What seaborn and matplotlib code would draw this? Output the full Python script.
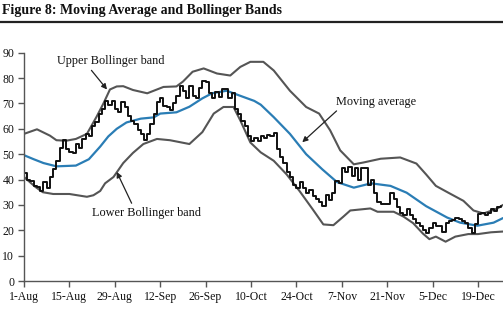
import numpy as np
import pandas as pd
import matplotlib
matplotlib.use("Agg")
import matplotlib.pyplot as plt
from matplotlib.lines import Line2D
import seaborn as sns

# ---- data (days since 1-Aug) ----
price = [42.5, 40, 39.5, 37.5, 37, 35.5, 39, 36.5, 41, 44,
         47.5, 52.5, 55.5, 52, 51, 50.5, 54, 52.5, 56, 58,
         57, 61, 62.5, 66, 68, 71, 69.5, 71, 68, 66.5,
         70.5, 68.5, 65, 63, 62, 59.5, 58, 55.5, 58, 62,
         66, 70.5, 72, 69, 68.5, 67.5, 70, 73, 77, 75,
         72, 77, 73, 72, 76, 79, 78.5, 74, 72, 74.5,
         72.5, 75.5, 75.5, 72, 74, 68, 66, 63, 61, 57,
         55, 56.5, 55, 57, 56.5, 57.5, 57, 58.5, 52, 49,
         46.5, 43, 41, 38, 36.5, 39, 36.5, 34.5, 36, 33.5,
         32.5, 31, 29.5, 34, 32, 34.5, 39.5, 38.5, 44.5, 43,
         45, 41.5, 44.5, 40, 44.5, 44.5, 38, 40, 34.5, 31,
         30.5, 30.5, 30.5, 34.5, 32.5, 29, 27, 26, 28.5, 26,
         24.5, 23, 21.5, 20, 19, 21, 23, 21.5, 21.5, 19.5,
         23, 23.5, 24, 25, 24.5, 23.5, 23, 21, 19, 22.5,
         26.5, 27, 26, 27, 28.5, 27.5, 29, 29.5]
price_days = list(range(len(price)))

ma_days = [0, 3, 6, 10, 16, 20, 23.5, 26, 28.6, 31.6, 36, 40, 42, 47, 51, 55, 58,
           62.5, 66.7, 71, 73, 77, 82, 87, 92, 96.5, 101.7, 107, 113, 118, 124,
           130.5, 134.5, 139.8, 144.8, 147.7]
ma_vals = [49.6, 48, 46.5, 45.2, 45.5, 48, 53, 57, 60, 62.5, 64, 64.5, 66, 66.5, 68.7,
           72, 74, 75, 73, 71, 69.5, 64.6, 58, 50, 44, 39, 36.8, 38.5, 37.5, 34.8,
           29.5, 25, 23, 21.8, 23, 24.8]

up_days = [0, 4, 8, 10, 13, 16, 19.4, 22.4, 24.5, 26.5, 28.6, 30.6, 33.6, 38, 43, 47,
           49, 52, 55.4, 59.5, 63.6, 66.7, 69.8, 73.8, 77, 82, 87, 91, 94.4, 97.5,
           101.7, 104.6, 110, 116, 121, 124, 127, 131, 135.5, 138.6, 141.7, 146, 147.7]
up_vals = [58, 59.8, 57.3, 55.5, 55.3, 56, 58, 64.8, 70, 75.5, 76.7, 76.8, 75.3, 74,
           76.5, 76.7, 78.6, 82.5, 83.8, 81.8, 81, 84.4, 86.4, 86.4, 83, 75, 68.6, 66,
           59.4, 51.5, 46, 46.7, 48.2, 48.7, 46.3, 42, 37.5, 34.7, 31.6, 27.8, 26.6,
           28.6, 30]

lo_days = [0, 3.5, 5.8, 9, 14, 19.4, 21.4, 23.5, 25, 27.6, 30.6, 33.6, 36.8, 41, 45,
           49, 51, 55, 58.5, 61.5, 64.6, 66.7, 69.8, 73, 77, 81, 85, 89, 92.3, 95.4,
           98.5, 100.6, 106.8, 109, 114, 117, 120, 123, 125, 127, 130, 133, 137, 140,
           144, 147.7]
lo_vals = [41, 37.1, 35, 34.3, 34.3, 33.2, 33.8, 35.5, 38.5, 41, 46.5, 50.5, 54, 56,
           55.5, 54.5, 54, 58.7, 66, 68.6, 68.6, 63.3, 54.6, 50.7, 47.4, 42, 35.4,
           28.3, 22.3, 22, 25.4, 27.8, 28.6, 27.3, 27.3, 25.4, 22.8, 18.7, 16.5, 17.5,
           15.5, 17.5, 18.5, 18.5, 19.2, 19.5]

tick_days = [0, 14, 28, 42, 56, 70, 84, 98, 112, 126, 140]
tick_labels = ["1-Aug", "15-Aug", "29-Aug", "12-Sep", "26-Sep", "10-Oct",
               "24-Oct", "7-Nov", "21-Nov", "5-Dec", "19-Dec"]
y_ticks = [0, 10, 20, 30, 40, 50, 60, 70, 80, 90]

title = "Figure 8: Moving Average and Bollinger Bands"

# ---- plot ----
sns.set_theme(style="white")
plt.rcParams['font.family'] = ['Liberation Serif', 'DejaVu Serif']

fig = plt.figure(figsize=(5.03, 3.24), dpi=100)
ax = fig.add_axes([24 / 503, 1 - 281 / 324, 1 - 24 / 503, (281 - 52.7) / 324])

band_color = "#555555"
df_up = pd.DataFrame({"day": up_days, "val": up_vals})
df_lo = pd.DataFrame({"day": lo_days, "val": lo_vals})
df_ma = pd.DataFrame({"day": ma_days, "val": ma_vals})
df_pr = pd.DataFrame({"day": price_days, "val": price})

sns.lineplot(data=df_up, x="day", y="val", ax=ax, color=band_color, lw=1.5)
sns.lineplot(data=df_lo, x="day", y="val", ax=ax, color=band_color, lw=1.5)
sns.lineplot(data=df_ma, x="day", y="val", ax=ax, color="#2a7db5", lw=1.6)
sns.lineplot(data=df_pr, x="day", y="val", ax=ax, color="#111111", lw=1.4,
             drawstyle="steps-post")

ax.set_xlim(0, 147.7)
ax.set_ylim(0, 90)
ax.set_xticks(tick_days)
ax.set_xticklabels(tick_labels)
ax.set_yticks(y_ticks)
ax.set_xlabel("")
ax.set_ylabel("")
for s in ["top", "right"]:
    ax.spines[s].set_visible(False)
for s in ["left", "bottom"]:
    ax.spines[s].set_color("#555555")
    ax.spines[s].set_linewidth(1.0)
ax.tick_params(axis="both", which="major", length=4, width=1.0, color="#555555",
               labelsize=8.5, labelcolor="#111111", pad=3, direction="out",
               bottom=True, left=True)
ax.grid(False)

arrowprops = dict(arrowstyle="-|>", color="#222222", lw=0.9, mutation_scale=8,
                  shrinkA=0, shrinkB=0)
ax.annotate("Upper Bollinger band", xy=(25.6, 75.5), xytext=(26.6, 86.7),
            ha="center", va="center", fontsize=8.8, color="#111111",
            arrowprops=dict(arrowprops, relpos=(0.3, 0.0)))
ax.annotate("Moving average", xy=(85.8, 54.7), xytext=(108.6, 70.7),
            ha="center", va="center", fontsize=8.8, color="#111111",
            arrowprops=dict(arrowprops, relpos=(0.05, 0.0)))
ax.annotate("Lower Bollinger band", xy=(28.6, 43), xytext=(37.7, 27),
            ha="center", va="center", fontsize=8.8, color="#111111",
            arrowprops=dict(arrowprops, relpos=(0.38, 1.0)))

fig.text(2 / 503, 1 - 10.5 / 324, title, ha="left", va="center",
         fontsize=10, fontweight="bold", color="#111111")
fig.add_artist(Line2D([0, 1], [1 - 21.7 / 324, 1 - 21.7 / 324],
                      transform=fig.transFigure, color="#222222", lw=1.6))

fig.savefig("out.png", dpi=100)
